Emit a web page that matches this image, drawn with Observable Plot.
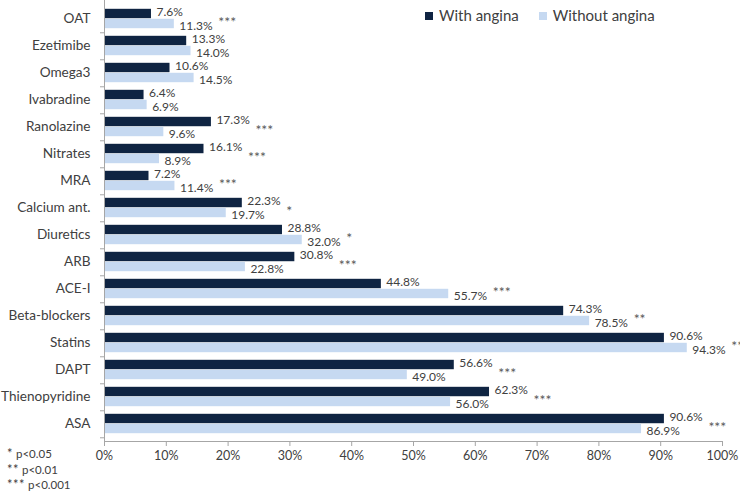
<!DOCTYPE html>
<html>
<head>
<meta charset="utf-8">
<script src="https://cdn.jsdelivr.net/npm/d3@7"></script>
<script src="https://cdn.jsdelivr.net/npm/@observablehq/plot@0.6"></script>
<style>
  html, body { margin: 0; padding: 0; background: #fff; }
  #wrap { position: relative; width: 740px; height: 492px; font-family: Lato, "Open Sans", sans-serif; color: #404040; }
  #legend { position: absolute; left: 425px; top: 6px; font-size: 15px; display: flex; gap: 20px; align-items: center; }
  #legend span.sw { display: inline-block; width: 8px; height: 8px; margin-right: 6px; vertical-align: middle; position: relative; top: -1px; }
  #notes { position: absolute; left: 7px; top: 446px; font-size: 11.5px; line-height: 14.5px; }
  #notes .st { font-size: 13px; letter-spacing: 0.5px; }
</style>
</head>
<body>
<div id="wrap">
  <div id="chart"></div>
  <div id="legend"></div>
  <div id="notes"></div>
</div>
<script>
const categories = ["OAT","Ezetimibe","Omega3","Ivabradine","Ranolazine","Nitrates","MRA","Calcium ant.","Diuretics","ARB","ACE-I","Beta-blockers","Statins","DAPT","Thienopyridine","ASA"];
const withAngina    = [7.6, 13.3, 10.6, 6.4, 17.3, 16.1, 7.2, 22.3, 28.8, 30.8, 44.8, 74.3, 90.6, 56.6, 62.3, 90.6];
const withoutAngina = [11.3, 14.0, 14.5, 6.9, 9.6, 8.9, 11.4, 19.7, 32.0, 22.8, 55.7, 78.5, 94.3, 49.0, 56.0, 86.9];
const significance  = ["***","","","","***","***","***","*","*","***","***","**","***","***","***","***"];
const seriesNames = ["With angina", "Without angina"];
const seriesColors = ["#0f2442", "#c6d9f1"];
const xTicks = [0,10,20,30,40,50,60,70,80,90,100];
const footnotes = [["*", "p<0.05"], ["**", "p<0.01"], ["***", "p<0.001"]];

const W = 740, H = 470, mTop = 0, mBottom = 29, mLeft = 104, mRight = 18;
const band = (H - mTop - mBottom) / categories.length;
const outer = 3.8;

const data = categories.map((c, i) => ({cat: c, a: withAngina[i], b: withoutAngina[i], sig: significance[i], max: Math.max(withAngina[i], withoutAngina[i])}));

const font = "Lato, 'Open Sans', sans-serif";
const grey = "#404040";

const chart = Plot.plot({
  width: W, height: H,
  marginTop: mTop, marginBottom: mBottom, marginLeft: mLeft, marginRight: mRight,
  style: {fontFamily: font, color: grey, background: "#fff", overflow: "visible"},
  x: {domain: [0, 100]},
  y: {domain: categories, padding: 0},
  marks: [
    Plot.barX(data, {y: "cat", x: "a", fill: seriesColors[0], insetTop: outer, insetBottom: band / 2}),
    Plot.barX(data, {y: "cat", x: "b", fill: seriesColors[1], insetTop: band / 2, insetBottom: outer}),
    Plot.text(data, {y: "cat", x: "a", text: d => d.a.toFixed(1) + "%", textAnchor: "start", dx: 5, dy: -7, fontSize: 12, fill: grey}),
    Plot.text(data, {y: "cat", x: "b", text: d => d.b.toFixed(1) + "%", textAnchor: "start", dx: 5, dy: 7, fontSize: 12, fill: grey}),
    Plot.text(data.filter(d => d.sig), {y: "cat", x: "max", text: "sig", textAnchor: "start", dx: 44, dy: 4, fontSize: 14, letterSpacing: 0.5, fill: "#595959"}),
    Plot.ruleX([0], {stroke: "#a6a6a6"}),
    Plot.axisY({tickSize: 0, tickPadding: 14, fontSize: 13.6, fill: grey, label: null}),
    Plot.axisY({tickSize: 4, tickFormat: () => "", dy: band / 2, stroke: "#a6a6a6", label: null}),
    Plot.axisX({ticks: xTicks, tickFormat: d => d + "%", tickSize: 5, tickPadding: 5, fontSize: 12.5, fill: grey, stroke: "#a6a6a6", label: null}),
    Plot.frame({anchor: "bottom", stroke: "#a6a6a6"})
  ]
});
document.getElementById("chart").appendChild(chart);

const legend = document.getElementById("legend");
seriesNames.forEach((n, i) => {
  const d = document.createElement("div");
  d.innerHTML = `<span class="sw" style="background:${seriesColors[i]}"></span>${n}`;
  legend.appendChild(d);
});
document.getElementById("notes").innerHTML = footnotes.map(f => `<div><span class="st">${f[0]}</span> ${f[1]}</div>`).join("");
</script>
</body>
</html>
